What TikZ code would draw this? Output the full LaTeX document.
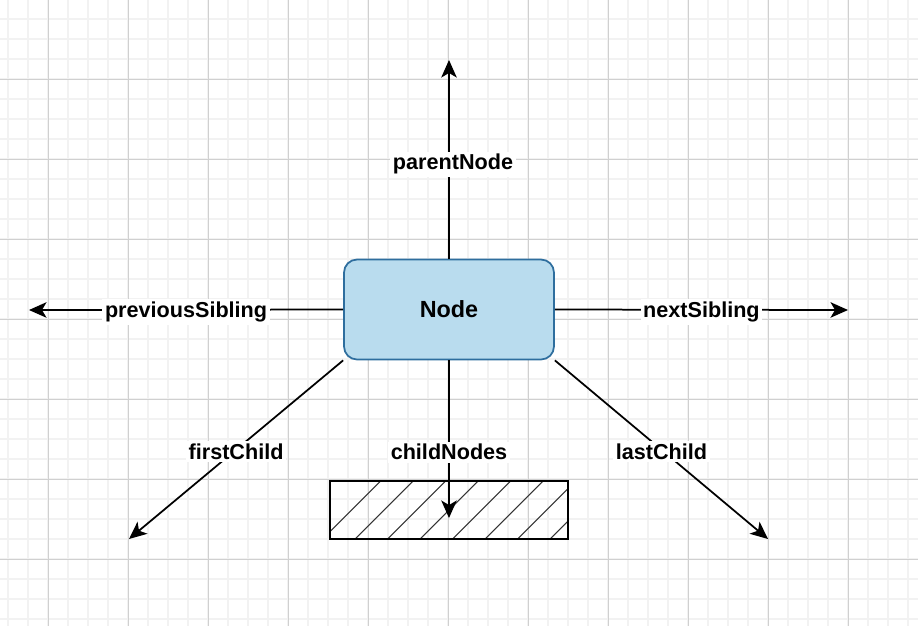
\documentclass[tikz,border=0pt]{standalone}
\usepackage{fontspec}
\setmainfont{Liberation Sans}
\usetikzlibrary{arrows.meta,calc}
\definecolor{nodefill}{RGB}{185,220,238}
\definecolor{nodeline}{RGB}{46,110,158}
\definecolor{gridminor}{RGB}{242,242,242}
\definecolor{gridmajor}{RGB}{208,208,208}
\newcommand{\LinkFont}{\fontsize{12.3}{14}\selectfont\bfseries}
\newcommand{\NodeFont}{\fontsize{13.3}{15}\selectfont\bfseries}

\begin{document}
\begin{tikzpicture}[x=0.02cm, y=-0.02cm,
    minorline/.style={gridminor, line width=0.035cm},
    majorline/.style={gridmajor, line width=0.02cm},
    link/.style={line width=0.035cm, -{Stealth[length=0.35cm, width=0.31cm, inset=0.09cm]}},
    linklabel/.style={fill=white, inner sep=1.5pt, yshift=-0.04cm, font=\LinkFont},
    domnode/.style={draw=nodeline, fill=nodefill, line width=0.035cm, rounded corners=0.26cm,
                    minimum width=4.2cm, minimum height=2cm, font=\NodeFont},
    childbox/.style={draw, line width=0.04cm, minimum width=4.78cm, minimum height=1.16cm, inner sep=0pt,
                     path picture={
                       \foreach \k in {-1,...,7}
                         \draw[line width=0.6pt, black!80]
                           ($(path picture bounding box.south west)+(26+32.5*\k,0)$) -- ++(60,-60);
                     }}]
    \useasboundingbox (0,0) rectangle (918,626);
    % Draw grid
    \foreach \gx in {8.3,28.3,...,908.3} \draw[minorline] (\gx,0) -- (\gx,626);
    \foreach \gy in {19.3,39.3,...,619.3} \draw[minorline] (0,\gy) -- (918,\gy);
    \foreach \gx in {48.3,128.3,...,848.3} \draw[majorline] (\gx,0) -- (\gx,626);
    \foreach \gy in {79.3,159.3,...,559.3} \draw[majorline] (0,\gy) -- (918,\gy);
    % Draw node and its children
    \node (dom) [domnode] at (449,309.5) {Node};
    \node (kids) [childbox] at (449,509.5) {};
    % Free ends of the links
    \coordinate (parentEnd) at (449,60);
    \coordinate (prevEnd) at (29,310);
    \coordinate (nextEnd) at (848,310);
    \coordinate (firstEnd) at (129,539);
    \coordinate (lastEnd) at (768,539);
    \coordinate (kidsEnd) at (449,518);
    % Draw links
    \draw [link] (dom.north) -- (parentEnd) node [linklabel, midway, xshift=0.08cm, yshift=-0.06cm] {parentNode};
    \draw [link] (dom.west) -- (prevEnd) node [linklabel, midway] {previousSibling};
    \draw [link] (dom.east) -- (nextEnd) node [linklabel, midway] {nextSibling};
    \draw [link] (dom.south west) -- (firstEnd) node [linklabel, midway] {firstChild};
    \draw [link] (dom.south east) -- (lastEnd) node [linklabel, midway] {lastChild};
    \draw [link] (dom.south) -- (kidsEnd) node [linklabel, pos=0.57] {childNodes};
\end{tikzpicture}
\end{document}
